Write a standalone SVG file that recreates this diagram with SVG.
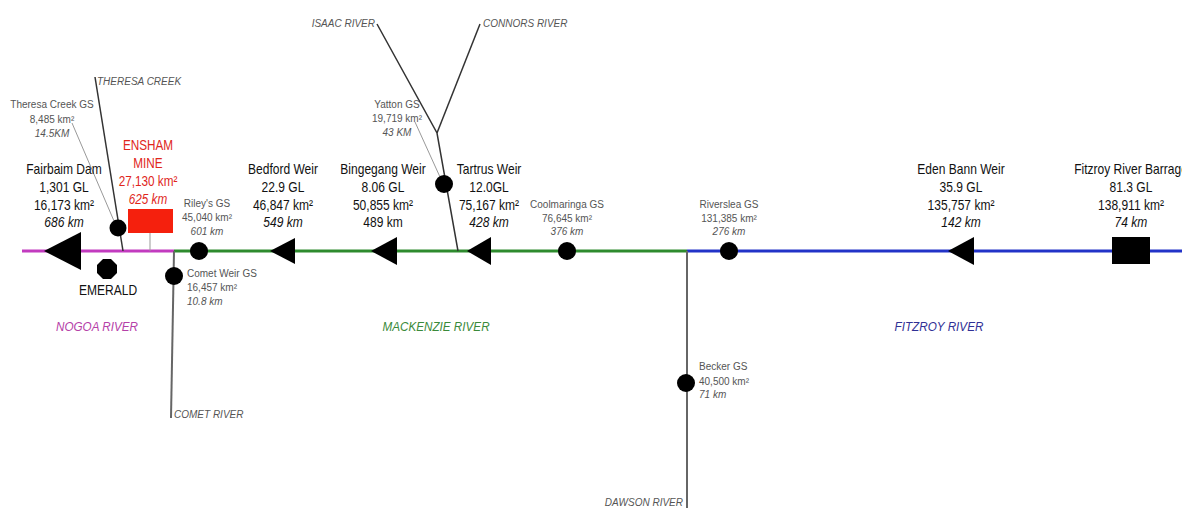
<svg xmlns="http://www.w3.org/2000/svg" width="1182" height="508" viewBox="0 0 1182 508">
<style>
text{font-family:"Liberation Sans",Arial,sans-serif}
.big{font-size:14px;fill:#111;text-anchor:middle}
.red{font-size:14px;fill:#e0261b;text-anchor:middle}
.sm{font-size:10px;fill:#555}
.mid{text-anchor:middle}
.it{font-style:italic}
.riv{font-size:13px;font-style:italic;text-anchor:middle}
.trib{stroke:#333;stroke-width:1.5;fill:none}
.gs{stroke:#999;stroke-width:1;fill:none}
.side{stroke:#666;stroke-width:2;fill:none}
.mk{fill:#000}
</style>
<rect width="1182" height="508" fill="#fff"/>
<g id="connectors">
  <line x1="22" y1="251" x2="174" y2="251" stroke="#c23bbf" stroke-width="3"/>
  <line x1="174" y1="251" x2="687" y2="251" stroke="#2e8b2e" stroke-width="3"/>
  <line x1="687" y1="251" x2="1182" y2="251" stroke="#2233c8" stroke-width="3"/>
  <line class="trib" x1="95" y1="77" x2="123" y2="251"/>
  <line class="gs" x1="72" y1="123" x2="114" y2="221"/>
  <line class="gs" x1="150" y1="233" x2="150" y2="251"/>
  <polyline class="trib" points="377,24 437,133 458,251"/>
  <line class="trib" x1="480" y1="24" x2="437" y2="133"/>
  <line class="gs" x1="415" y1="122" x2="440" y2="177"/>
  <line class="side" x1="174" y1="251" x2="171" y2="418"/>
  <line class="side" x1="687" y1="251" x2="687" y2="508"/>
</g>
<g id="theresa-creek">
  <text class="sm it" x="97" y="85">THERESA CREEK</text>
</g>
<g id="theresa-creek-gs">
  <circle class="mk" cx="118" cy="228" r="8.5"/>
  <text class="sm mid" x="52" y="108">Theresa Creek GS</text>
  <text class="sm mid" x="52" y="123">8,485 km²</text>
  <text class="sm mid it" x="52" y="137">14.5KM</text>
</g>
<g id="fairbairn-dam">
  <polygon class="mk" points="44,251 81,232 81,270"/>
  <g transform="translate(64,0) scale(0.86,1)">
    <text class="big" x="0" y="174">Fairbaim Dam</text>
    <text class="big" x="0" y="192">1,301 GL</text>
    <text class="big" x="0" y="210">16,173 km²</text>
    <text class="big it" x="0" y="227">686 km</text>
  </g>
</g>
<g id="emerald">
  <polygon class="mk" points="103,259 111,259 117,265 117,273 111,279 103,279 97,273 97,265"/>
  <text class="big" transform="translate(108,295) scale(0.86,1)">EMERALD</text>
</g>
<g id="ensham-mine">
  <rect x="128" y="209" width="45" height="24" fill="#f5200d"/>
  <g transform="translate(148,0) scale(0.84,1)">
    <text class="red" x="0" y="150">ENSHAM</text>
    <text class="red" x="0" y="168">MINE</text>
    <text class="red" x="0" y="186">27,130 km²</text>
    <text class="red it" x="0" y="204">625 km</text>
  </g>
</g>
<g id="rileys-gs">
  <circle class="mk" cx="199" cy="251" r="9"/>
  <text class="sm mid" x="207" y="207">Riley's GS</text>
  <text class="sm mid" x="207" y="221">45,040 km²</text>
  <text class="sm mid it" x="207" y="235">601 km</text>
</g>
<g id="comet-weir-gs">
  <circle class="mk" cx="174" cy="276" r="9"/>
  <text class="sm" x="187" y="277">Comet Weir GS</text>
  <text class="sm" x="187" y="291">16,457 km²</text>
  <text class="sm it" x="187" y="305">10.8 km</text>
  <text class="sm it" x="174" y="418">COMET RIVER</text>
</g>
<g id="bedford-weir">
  <polygon class="mk" points="270,251 295,238 295,264"/>
  <g transform="translate(283,0) scale(0.86,1)">
    <text class="big" x="0" y="174">Bedford Weir</text>
    <text class="big" x="0" y="192">22.9 GL</text>
    <text class="big" x="0" y="210">46,847 km²</text>
    <text class="big it" x="0" y="227">549 km</text>
  </g>
</g>
<g id="bingegang-weir">
  <polygon class="mk" points="371,251 397,237 397,265"/>
  <g transform="translate(383,0) scale(0.86,1)">
    <text class="big" x="0" y="174">Bingegang Weir</text>
    <text class="big" x="0" y="192">8.06 GL</text>
    <text class="big" x="0" y="210">50,855 km²</text>
    <text class="big" x="0" y="227">489 km</text>
  </g>
</g>
<g id="isaac-connors">
  <text class="sm it" x="375" y="27" text-anchor="end">ISAAC RIVER</text>
  <text class="sm it" x="483" y="27">CONNORS RIVER</text>
</g>
<g id="yatton-gs">
  <circle class="mk" cx="444" cy="184" r="9"/>
  <text class="sm mid" x="397" y="108">Yatton GS</text>
  <text class="sm mid" x="397" y="122">19,719 km²</text>
  <text class="sm mid it" x="397" y="136">43 KM</text>
</g>
<g id="tartrus-weir">
  <polygon class="mk" points="467,251 491,237 491,265"/>
  <g transform="translate(489,0) scale(0.86,1)">
    <text class="big" x="0" y="174">Tartrus Weir</text>
    <text class="big" x="0" y="192">12.0GL</text>
    <text class="big" x="0" y="210">75,167 km²</text>
    <text class="big it" x="0" y="227">428 km</text>
  </g>
</g>
<g id="coolmaringa-gs">
  <circle class="mk" cx="567" cy="251" r="9"/>
  <text class="sm mid" x="567" y="208">Coolmaringa GS</text>
  <text class="sm mid" x="567" y="222">76,645 km²</text>
  <text class="sm mid it" x="567" y="235">376 km</text>
</g>
<g id="becker-gs">
  <circle class="mk" cx="686" cy="383" r="9"/>
  <text class="sm" x="699" y="370">Becker GS</text>
  <text class="sm" x="699" y="385">40,500 km²</text>
  <text class="sm it" x="699" y="398">71 km</text>
  <text class="sm it" x="683" y="506" text-anchor="end">DAWSON RIVER</text>
</g>
<g id="riverslea-gs">
  <circle class="mk" cx="729" cy="251" r="9"/>
  <text class="sm mid" x="729" y="208">Riverslea GS</text>
  <text class="sm mid" x="729" y="222">131,385 km²</text>
  <text class="sm mid it" x="729" y="235">276 km</text>
</g>
<g id="eden-bann-weir">
  <polygon class="mk" points="948,251 974,237 974,265"/>
  <g transform="translate(961,0) scale(0.86,1)">
    <text class="big" x="0" y="174">Eden Bann Weir</text>
    <text class="big" x="0" y="192">35.9 GL</text>
    <text class="big" x="0" y="210">135,757 km²</text>
    <text class="big it" x="0" y="227">142 km</text>
  </g>
</g>
<g id="fitzroy-river-barrage">
  <rect class="mk" x="1112" y="237" width="38" height="27"/>
  <g transform="translate(1131,0) scale(0.86,1)">
    <text class="big" x="0" y="174">Fitzroy River Barrage</text>
    <text class="big" x="0" y="192">81.3 GL</text>
    <text class="big" x="0" y="210">138,911 km²</text>
    <text class="big it" x="0" y="227">74 km</text>
  </g>
</g>
<g id="river-labels">
  <text class="riv" x="97" y="331" fill="#b540a8" transform="translate(97,0) scale(0.9,1) translate(-97,0)">NOGOA RIVER</text>
  <text class="riv" x="436" y="331" fill="#3a8a3a" transform="translate(436,0) scale(0.9,1) translate(-436,0)">MACKENZIE RIVER</text>
  <text class="riv" x="939" y="331" fill="#303095" transform="translate(939,0) scale(0.9,1) translate(-939,0)">FITZROY RIVER</text>
</g>
</svg>
